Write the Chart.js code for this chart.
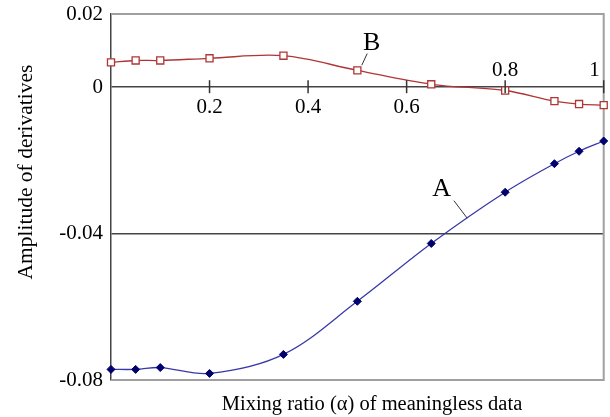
<!DOCTYPE html>
<html lang="en">
<head>
<meta charset="UTF-8" />
<title>Amplitude of derivatives</title>
<script src="https://cdn.jsdelivr.net/npm/chart.js"></script>
<style>
  html, body { margin: 0; padding: 0; background: #fff; }
  #wrap { width: 610px; height: 417px; }
</style>
</head>
<body>
<div id="wrap"><canvas id="chart"></canvas></div>
<script>
  // mixing ratio (alpha)
  const ratios = [0, 0.05, 0.1, 0.2, 0.35, 0.5, 0.65, 0.8, 0.9, 0.95, 1];
  const seriesA = [-0.0771, -0.0771, -0.0766, -0.0782, -0.0730, -0.0585, -0.0427, -0.0287, -0.0209, -0.0175, -0.0147];
  const seriesB = [0.0068, 0.0073, 0.0073, 0.0079, 0.0086, 0.0046, 0.0008, -0.0009, -0.0038, -0.0046, -0.0049];

  const yTicks = [0.02, 0, -0.04, -0.08];
  const yTickLabels = ['0.02', '0', '-0.04', '-0.08'];
  const xTicks = [0.2, 0.4, 0.6, 0.8, 1];
  const xTickLabels = ['0.2', '0.4', '0.6', '0.8', '1'];

  const xTitle = 'Mixing ratio (\u03b1) of meaningless data';
  const yTitle = 'Amplitude of derivatives';

  // curve labels with their leader lines (data units)
  const curveLabels = ['A', 'B'];
  const labelAt = [[0.671, -0.0279], [0.529, 0.0120]];
  const leaderFrom = [[0.696, -0.0310], [0.509, 0.0060]];
  const leaderTo = [[0.723, -0.0358], [0.520, 0.0092]];

  const serif = '"Liberation Serif", "Times New Roman", serif';

  const pts = arr => arr.map((v, i) => ({ x: ratios[i], y: v }));

  const framePlugin = {
    id: 'frame',
    beforeDatasetsDraw(chart) {
      const { ctx, chartArea: a } = chart;
      ctx.save();
      ctx.strokeStyle = '#a0a0a0';
      ctx.lineWidth = 2;
      ctx.beginPath();
      ctx.moveTo(a.left, a.top);
      ctx.lineTo(a.right, a.top);
      ctx.lineTo(a.right, a.bottom);
      ctx.lineTo(a.left, a.bottom);
      ctx.stroke();
      ctx.restore();
    },
    afterDraw(chart) {
      const { ctx } = chart;
      const xs = chart.scales.x, ys = chart.scales.y;
      const y0 = ys.getPixelForValue(0);
      ctx.save();
      // x ticks sit on the zero line
      ctx.strokeStyle = '#333';
      ctx.lineWidth = 1.5;
      ctx.fillStyle = '#000';
      ctx.font = '21px ' + serif;
      ctx.textBaseline = 'middle';
      xTicks.forEach((v, i) => {
        const px = xs.getPixelForValue(v);
        ctx.beginPath();
        ctx.moveTo(px, y0 - 7);
        ctx.lineTo(px, y0 + 6);
        ctx.stroke();
        const above = v >= 0.8;
        ctx.textAlign = v >= 1 ? 'right' : 'center';
        ctx.fillText(xTickLabels[i], v >= 1 ? px - 4 : px, above ? y0 - 17 : y0 + 20);
      });
      // curve labels
      ctx.font = '26px ' + serif;
      ctx.textAlign = 'center';
      ctx.lineWidth = 1;
      curveLabels.forEach((t, i) => {
        ctx.fillText(t, xs.getPixelForValue(labelAt[i][0]), ys.getPixelForValue(labelAt[i][1]));
        ctx.beginPath();
        ctx.moveTo(xs.getPixelForValue(leaderFrom[i][0]), ys.getPixelForValue(leaderFrom[i][1]));
        ctx.lineTo(xs.getPixelForValue(leaderTo[i][0]), ys.getPixelForValue(leaderTo[i][1]));
        ctx.stroke();
      });
      // axis titles
      ctx.font = '20.5px ' + serif;
      ctx.fillText(xTitle, 372, 405);
      ctx.font = '21.5px ' + serif;
      ctx.translate(26, 172);
      ctx.rotate(-Math.PI / 2);
      ctx.fillText(yTitle, 0, 0);
      ctx.restore();
    }
  };

  new Chart(document.getElementById('chart'), {
    type: 'line',
    data: {
      datasets: [{
        label: 'A',
        data: pts(seriesA),
        borderColor: '#3838a8',
        borderWidth: 1.3,
        pointStyle: 'rectRot',
        pointRadius: 4,
        pointBackgroundColor: '#00006e',
        pointBorderColor: '#00006e',
        pointBorderWidth: 1,
        tension: 0.35,
        clip: false
      }, {
        label: 'B',
        data: pts(seriesB),
        borderColor: '#b03535',
        borderWidth: 1.3,
        pointStyle: 'rect',
        pointRadius: 5,
        pointBackgroundColor: '#fff',
        pointBorderColor: '#b03535',
        pointBorderWidth: 1.3,
        tension: 0.35,
        clip: false
      }]
    },
    options: {
      responsive: true,
      maintainAspectRatio: false,
      animation: false,
      layout: { padding: { top: 14, right: 5, left: 0, bottom: 0 } },
      plugins: { legend: { display: false }, tooltip: { enabled: false } },
      scales: {
        x: {
          type: 'linear',
          min: 0,
          max: 1,
          ticks: { display: false },
          grid: { display: false },
          border: { display: false },
          afterFit(scale) { scale.height = 37; }
        },
        y: {
          min: -0.08,
          max: 0.02,
          afterBuildTicks(scale) { scale.ticks = yTicks.map(v => ({ value: v })); },
          ticks: {
            color: '#000',
            font: { family: serif, size: 21 },
            padding: 8,
            callback: (v) => yTickLabels[yTicks.indexOf(v)]
          },
          grid: {
            drawTicks: false,
            lineWidth: 1.5,
            color: (c) => (c.tick && (c.tick.value === 0 || c.tick.value === -0.04)) ? '#444' : 'rgba(0,0,0,0)'
          },
          border: { display: true, color: '#444', width: 1.5 },
          afterFit(scale) {
            scale.width = 111;
            scale.paddingTop = 0;
            scale.paddingBottom = 0;
          }
        }
      }
    },
    plugins: [framePlugin]
  });
</script>
</body>
</html>
